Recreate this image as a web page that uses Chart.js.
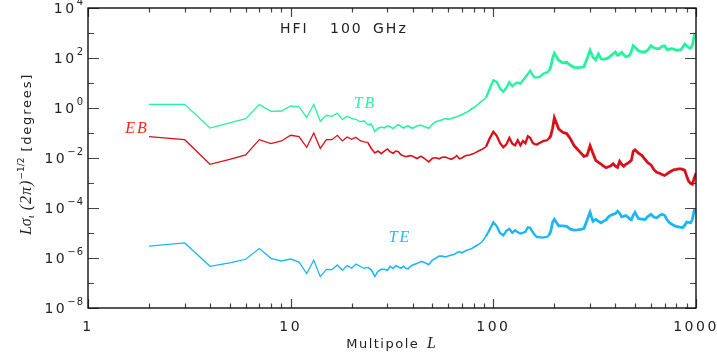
<!DOCTYPE html>
<html lang="en">
<head>
<meta charset="UTF-8" />
<title>HFI 100 GHz</title>
<script src="https://cdn.jsdelivr.net/npm/chart.js"></script>
<style>
  html, body { margin: 0; padding: 0; background: #fff; }
  #wrap { width: 717px; height: 352px; }
</style>
</head>
<body>
<div id="wrap"><canvas id="chart" width="717" height="352"></canvas></div>
<script>
// multipoles shared by the three spectra
const multipoles = [
  2, 3, 4, 5, 6, 7, 8, 9, 10, 11, 12, 13, 14, 15, 16, 17, 18, 19,
  20, 21, 22, 23, 24, 25, 26, 27, 28, 29, 30, 31, 32, 33, 34, 35, 36, 37, 38, 39, 40,
  42, 44, 46, 48, 50, 52, 54, 56, 58, 60, 62, 64, 66, 68, 70, 72, 74, 76, 78, 80,
  84, 88, 92, 96, 100, 104, 108, 112, 116, 120, 124, 128, 132, 136, 140, 144, 148, 152,
  156, 160, 164, 168, 172, 176, 180, 184, 188, 192, 196, 200,
  210, 220, 230, 240, 250, 260, 270, 280, 290, 300, 310, 320, 330, 340, 350,
  360, 370, 380, 390, 400, 410, 420, 430, 440, 450, 460, 470, 480, 490, 500,
  520, 540, 560, 580, 600, 620, 640, 660, 680, 700, 720, 740, 760, 780, 800,
  820, 840, 860, 880, 900, 920, 940, 960, 980, 1000
];

const tbValues = [
  1.40, 1.40, 0.158, 0.256, 0.377, 1.37, 0.738, 0.759, 1.20, 1.10, 0.413, 1.41, 0.294, 0.511, 0.466, 0.631, 0.344, 0.466,
  0.387, 0.353, 0.281, 0.308, 0.213, 0.227, 0.117, 0.154, 0.169, 0.161, 0.194, 0.177, 0.150, 0.185, 0.217, 0.185, 0.158, 0.177, 0.191, 0.169, 0.154,
  0.194, 0.203, 0.177, 0.154, 0.223, 0.281, 0.308, 0.337, 0.377, 0.353, 0.377, 0.417, 0.445, 0.488, 0.545, 0.614, 0.686, 0.773, 0.929, 1.02,
  1.41, 1.94, 2.56, 5.86, 12.8, 11.0, 5.97, 4.45, 6.43, 10.7, 7.38, 9.29, 10.4, 9.46, 12.8, 16.9, 23.3, 30.8,
  21.3, 16.9, 16.9, 17.2, 19.4, 23.3, 24.9, 26.8, 29.4, 44.5, 97.3, 154,
  80.9, 64.3, 67.3, 51.1, 42.5, 41.3, 42.5, 44.5, 92.9, 203, 107, 84.7, 147, 92.9, 88.7,
  94.6, 102, 122, 147, 172, 128, 141, 169, 134, 112, 117, 128, 185, 308, 268,
  194, 174, 174, 213, 308, 256, 238, 238, 294, 308, 217, 227, 238, 223, 203,
  209, 213, 268, 360, 308, 261, 244, 322, 773, 614
];

const ebValues = [
  7.2e-2, 5.4e-2, 5.6e-3, 8.9e-3, 1.32e-2, 5.4e-2, 3.77e-2, 4.8e-2, 8.1e-2, 7.2e-2, 2.68e-2, 1.0e-1, 2.44e-2, 5.4e-2, 5.4e-2, 8.1e-2, 4.8e-2, 6.9e-2,
  5.6e-2, 6.7e-2, 4.9e-2, 4.4e-2, 4.2e-2, 2.4e-2, 1.6e-2, 1.9e-2, 1.5e-2, 1.9e-2, 2.3e-2, 1.77e-2, 1.54e-2, 1.9e-2, 1.77e-2, 1.34e-2, 1.22e-2, 1.12e-2, 1.19e-2, 1.26e-2, 1.17e-2,
  9.5e-3, 1.17e-2, 9.3e-3, 7.0e-3, 9.7e-3, 1.02e-2, 9.3e-3, 1.07e-2, 1.09e-2, 9.7e-3, 8.9e-3, 1.02e-2, 1.25e-2, 9.3e-3, 1.0e-2, 1.17e-2, 1.28e-2, 1.28e-2, 1.41e-2, 1.5e-2,
  1.85e-2, 2.23e-2, 2.8e-2, 6.1e-2, 1.12e-1, 7.7e-2, 3.9e-2, 2.68e-2, 3.5e-2, 6.4e-2, 3.7e-2, 3.2e-2, 5.1e-2, 3.2e-2, 4.8e-2, 3.9e-2, 7.4e-2, 6.4e-2,
  4.2e-2, 3.6e-2, 3.45e-2, 3.9e-2, 4.3e-2, 4.7e-2, 4.9e-2, 5.1e-2, 5.9e-2, 7.7e-2, 1.54e-1, 4.06e-1,
  1.47e-1, 1.07e-1, 9.5e-2, 5.9e-2, 3.2e-2, 2.23e-2, 1.6e-2, 1.17e-2, 1.28e-2, 3.1e-2, 1.54e-2, 8.1e-3, 6.7e-3, 5.7e-3, 4.7e-3,
  4.1e-3, 4.5e-3, 4.9e-3, 5.9e-3, 4.7e-3, 4.2e-3, 7.4e-3, 5.6e-3, 4.7e-3, 5.6e-3, 6.1e-3, 7.0e-3, 8.1e-3, 1.85e-2, 2.1e-2,
  1.58e-2, 1.28e-2, 8.9e-3, 6.4e-3, 5.3e-3, 3.4e-3, 2.7e-3, 2.45e-3, 2.2e-3, 2.0e-3, 2.3e-3, 2.7e-3, 3.1e-3, 3.4e-3, 3.5e-3,
  3.7e-3, 3.7e-3, 3.5e-3, 3.2e-3, 1.85e-3, 1.17e-3, 9.7e-4, 8.9e-4, 1.54e-3, 2.45e-3
];

const teValues = [
  3.0e-6, 4.0e-6, 4.66e-7, 6.4e-7, 8.9e-7, 2.38e-6, 9.7e-7, 7.6e-7, 9.1e-7, 6.9e-7, 2.38e-7, 8.1e-7, 1.80e-7, 3.53e-7, 3.44e-7, 5.25e-7, 3.22e-7, 4.97e-7,
  3.87e-7, 5.7e-7, 4.66e-7, 3.87e-7, 4.25e-7, 3.37e-7, 1.85e-7, 2.94e-7, 3.53e-7, 3.53e-7, 3.22e-7, 4.66e-7, 3.8e-7, 4.88e-7, 4.33e-7, 3.87e-7, 4.66e-7, 3.87e-7, 3.7e-7, 4.66e-7, 5.2e-7,
  5.97e-7, 7.4e-7, 6.4e-7, 5.35e-7, 8.2e-7, 9.7e-7, 1.19e-6, 1.19e-6, 1.10e-6, 1.21e-6, 1.32e-6, 1.38e-6, 1.64e-6, 1.80e-6, 1.58e-6, 1.82e-6, 2.03e-6, 2.19e-6, 2.33e-6, 2.68e-6,
  3.37e-6, 4.45e-6, 7.4e-6, 1.38e-5, 2.68e-5, 1.85e-5, 9.9e-6, 8.1e-6, 1.22e-5, 1.47e-5, 1.02e-5, 1.28e-5, 1.07e-5, 9.5e-6, 1.02e-5, 1.12e-5, 1.69e-5, 1.61e-5,
  1.12e-5, 8.5e-6, 6.9e-6, 6.8e-6, 6.7e-6, 6.5e-6, 6.8e-6, 7.05e-6, 8.1e-6, 1.17e-5, 2.68e-5, 3.53e-5,
  1.94e-5, 1.94e-5, 1.85e-5, 1.43e-5, 1.31e-5, 1.34e-5, 1.41e-5, 1.5e-5, 3.22e-5, 6.73e-5, 2.94e-5, 3.53e-5, 2.94e-5, 2.56e-5, 2.99e-5,
  3.34e-5, 4.45e-5, 5.1e-5, 5.6e-5, 5.97e-5, 7.4e-5, 6.1e-5, 4.4e-5, 4.66e-5, 4.97e-5, 4.45e-5, 3.7e-5, 3.37e-5, 5.1e-5, 6.73e-5,
  3.77e-5, 3.6e-5, 3.44e-5, 4.66e-5, 5.6e-5, 4.25e-5, 4.06e-5, 4.97e-5, 5.6e-5, 5.1e-5, 3.37e-5, 2.56e-5, 2.23e-5, 1.96e-5, 1.85e-5,
  1.74e-5, 1.69e-5, 1.66e-5, 2.03e-5, 2.73e-5, 2.68e-5, 2.56e-5, 3.53e-5, 8.1e-5, 6.9e-5
];

// axis ticks
const xTickValues = [1, 10, 100, 1000];
const xTickLabels = ['1', '10', '100', '1000'];
const yTickPowers = [-8, -6, -4, -2, 0, 2, 4];

const sans = '"DejaVu Sans", sans-serif';
const serif = '"Liberation Serif", "DejaVu Serif", serif';

function points(vals) {
  return multipoles.map((l, i) => ({ x: l, y: vals[i] }));
}

// the spectra get noisier (denser) toward high multipoles
function widthAt(l) {
  if (l < 25) return 1.3;
  if (l < 95) return 1.6;
  if (l < 190) return 2.3;
  return 2.8;
}

function series(label, vals, color) {
  return {
    label: label,
    data: points(vals),
    borderColor: color,
    borderWidth: 1.3,
    pointRadius: 0,
    tension: 0,
    fill: false,
    segment: { borderWidth: c => widthAt(c.p1.parsed.x) }
  };
}

function drawText(ctx, text, x, y, font, color, align, spacing) {
  ctx.font = font;
  ctx.fillStyle = color;
  ctx.textAlign = align || 'left';
  ctx.letterSpacing = spacing || '0px';
  ctx.fillText(text, x, y);
  ctx.letterSpacing = '0px';
}

function widthOf(ctx, text, font, spacing) {
  ctx.font = font;
  ctx.letterSpacing = spacing || '0px';
  const w = ctx.measureText(text).width;
  ctx.letterSpacing = '0px';
  return w;
}

const frameAndLabels = {
  id: 'frameAndLabels',
  afterDraw(chart) {
    const ctx = chart.ctx;
    const a = chart.chartArea;
    const xs = chart.scales.x, ys = chart.scales.y;
    ctx.save();

    // inward ticks on all four sides
    ctx.strokeStyle = '#444';
    ctx.lineWidth = 1.2;
    ctx.beginPath();
    xTickValues.forEach(v => {
      for (let m = 1; m < 10; m++) {
        const val = v * m;
        if (val > xs.max) break;
        const px = Math.round(xs.getPixelForValue(val)) + 0.5;
        const len = m === 1 ? 9 : 4.5;
        ctx.moveTo(px, a.bottom); ctx.lineTo(px, a.bottom - len);
        ctx.moveTo(px, a.top); ctx.lineTo(px, a.top + len);
      }
    });
    for (let p = -8; p <= 4; p++) {
      const py = Math.round(ys.getPixelForValue(Math.pow(10, p))) + 0.5;
      const len = p % 2 === 0 ? 11 : 6;
      ctx.moveTo(a.left, py); ctx.lineTo(a.left + len, py);
      ctx.moveTo(a.right, py); ctx.lineTo(a.right - len, py);
    }
    ctx.stroke();

    ctx.strokeStyle = '#111';
    ctx.lineWidth = 1.4;
    ctx.strokeRect(a.left, a.top, a.right - a.left, a.bottom - a.top);

    // x tick labels
    ctx.textBaseline = 'alphabetic';
    xTickValues.forEach((v, i) => {
      const px = xs.getPixelForValue(v);
      drawText(ctx, xTickLabels[i], px, 331, '14px ' + sans, '#222', 'center', '2.5px');
    });

    // y tick labels: 10 with a raised exponent
    const baseFont = '14px ' + sans, expFont = '10px ' + sans;
    yTickPowers.forEach(p => {
      const py = ys.getPixelForValue(Math.pow(10, p));
      const exp = p < 0 ? '\u2212' + (-p) : String(p);
      const we = widthOf(ctx, exp, expFont, '1px');
      const wb = widthOf(ctx, '10', baseFont, '2.5px');
      const right = 84;
      drawText(ctx, '10', right - we - wb, py + 5, baseFont, '#222', 'left', '2.5px');
      drawText(ctx, exp, right - we, py - 3, expFont, '#222', 'left', '1px');
    });

    // x axis title
    const mFont = '13px ' + sans, lFont = 'italic 16px ' + serif;
    const wm = widthOf(ctx, 'Multipole ', mFont, '1.5px');
    const wl = widthOf(ctx, 'L', lFont);
    const mx = 390 - (wm + wl) / 2;
    drawText(ctx, 'Multipole ', mx, 348, mFont, '#222', 'left', '1.5px');
    drawText(ctx, 'L', mx + wm + 2, 348, lFont, '#222', 'left');

    // y axis title, rotated
    const parts = [
      { t: 'L', f: 'italic 16px ' + serif, dy: 0 },
      { t: '\u03c3', f: 'italic 16px ' + serif, dy: 0 },
      { t: '\u03b9', f: 'italic 11px ' + serif, dy: 3 },
      { t: ' (2\u03c0)', f: 'italic 16px ' + serif, dy: 0, s: '1px' },
      { t: '\u22121/2', f: '9px ' + sans, dy: -7 },
      { t: ' [degrees]', f: '13px ' + sans, dy: 0, s: '1.8px' }
    ];
    let total = 0;
    parts.forEach(q => { q.w = widthOf(ctx, q.t, q.f, q.s); total += q.w; });
    ctx.save();
    ctx.translate(31, 154);
    ctx.rotate(-Math.PI / 2);
    let cx = -total / 2;
    parts.forEach(q => {
      drawText(ctx, q.t, cx, q.dy, q.f, '#222', 'left', q.s);
      cx += q.w;
    });
    ctx.restore();

    // panel title and series names
    const tFont = '14px ' + sans;
    drawText(ctx, 'HFI', 280, 33, tFont, '#222', 'left', '2px');
    drawText(ctx, '100', 330, 33, tFont, '#222', 'left', '2px');
    drawText(ctx, 'GHz', 373, 33, tFont, '#222', 'left', '2px');
    drawText(ctx, 'TB', 365, 108, 'italic 16px ' + serif, '#2ef0a0', 'center', '2px');
    drawText(ctx, 'EB', 137, 133, 'italic 16px ' + serif, '#ff2020', 'center', '2px');
    drawText(ctx, 'TE', 400, 242, 'italic 16px ' + serif, '#22b8f8', 'center', '2px');

    ctx.restore();
  }
};

new Chart(document.getElementById('chart'), {
  type: 'line',
  data: {
    datasets: [
      series('TB', tbValues, '#25f29c'),
      series('EB', ebValues, '#d8101a'),
      series('TE', teValues, '#1cb6f7')
    ]
  },
  options: {
    responsive: false,
    animation: false,
    layout: { padding: { left: 88, right: 21, top: 8, bottom: 44 } },
    plugins: { legend: { display: false }, tooltip: { enabled: false } },
    scales: {
      x: { type: 'logarithmic', min: 1, max: 1000, display: false },
      y: { type: 'logarithmic', min: 1e-8, max: 1e4, display: false }
    }
  },
  plugins: [frameAndLabels]
});
</script>
</body>
</html>
